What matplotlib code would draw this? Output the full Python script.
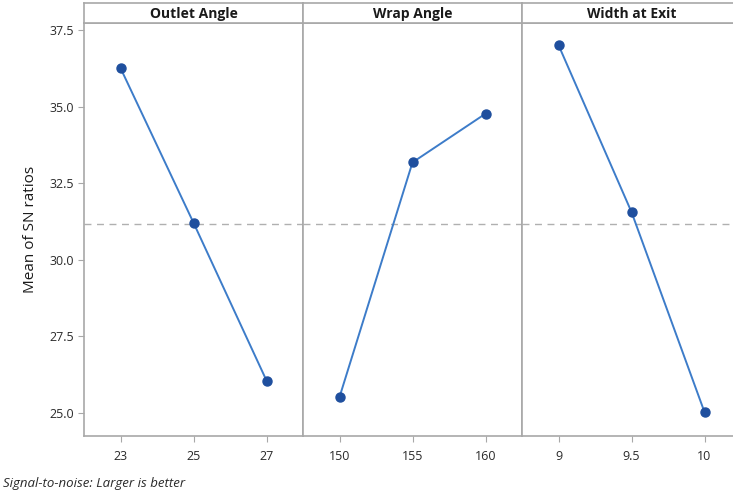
import matplotlib.pyplot as plt

plt.rcParams["font.family"] = ["Open Sans", "DejaVu Sans"]

factors = ["Outlet Angle", "Wrap Angle", "Width at Exit"]
level_labels = [["23", "25", "27"], ["150", "155", "160"], ["9", "9.5", "10"]]
sn_means = [
    [36.26, 31.21, 26.06],
    [25.52, 33.18, 34.77],
    [37.01, 31.56, 25.03],
]
grand_mean = 31.18
y_ticks = [25.0, 27.5, 30.0, 32.5, 35.0, 37.5]

FRAME = "#a8a8a8"
LINE = "#3d7cc9"
MARK = "#1f4f9e"
TEXT = "#2a2a2a"

W, H = 733, 501
fig = plt.figure(figsize=(W / 100, H / 100), dpi=100)

left, pw = 84, 219
bottom, top, strip_h = 436, 23, 20
step = pw / 3.0  # pixels per factor level

for i, (name, labels, vals) in enumerate(zip(factors, level_labels, sn_means)):
    x0 = (left + i * pw) / W
    # last panel runs off the right edge of the canvas
    width = pw if i < 2 else pw + 30
    ax = fig.add_axes([x0, (H - bottom) / H, width / W, (bottom - top) / H])
    xs = list(range(len(vals)))
    ax.axhline(grand_mean, color="#b0b0b0", linestyle=(0, (5, 4)), linewidth=1.0, zorder=1)
    ax.plot(xs, vals, color=LINE, linewidth=1.4, zorder=2)
    ax.plot(xs, vals, "o", color=MARK, markersize=6.5, zorder=3)
    ax.set_xlim(-0.5, -0.5 + width / step)
    ax.set_ylim(24.25, 37.73)
    ax.set_xticks(xs)
    ax.set_xticklabels(labels)
    for s in ax.spines.values():
        s.set_color(FRAME)
        s.set_linewidth(1.2)
    ax.tick_params(axis="x", colors=FRAME, labelcolor=TEXT, labelsize=9, length=4, pad=6)
    if i == 0:
        ax.set_yticks(y_ticks)
        ax.set_yticklabels([f"{v:.1f}" for v in y_ticks])
        ax.tick_params(axis="y", colors=FRAME, labelcolor=TEXT, labelsize=9, length=4)
        ax.set_ylabel("Mean of SN ratios", fontsize=11, color="#1a1a1a", labelpad=8)
    else:
        ax.set_yticks([])

    sx = fig.add_axes([x0, (H - top) / H, width / W, strip_h / H])
    sx.set_xticks([])
    sx.set_yticks([])
    for s in sx.spines.values():
        s.set_color(FRAME)
        s.set_linewidth(1.2)
    sx.text((pw / 2) / width, 0.45, name, ha="center", va="center", fontsize=10,
            fontweight="bold", color="#1a1a1a", transform=sx.transAxes)

fig.text(3 / W, 1 - 484 / H, "Signal-to-noise: Larger is better", fontsize=9.5,
         style="italic", color=TEXT, va="center", ha="left")

fig.savefig("out.png", dpi=100)
